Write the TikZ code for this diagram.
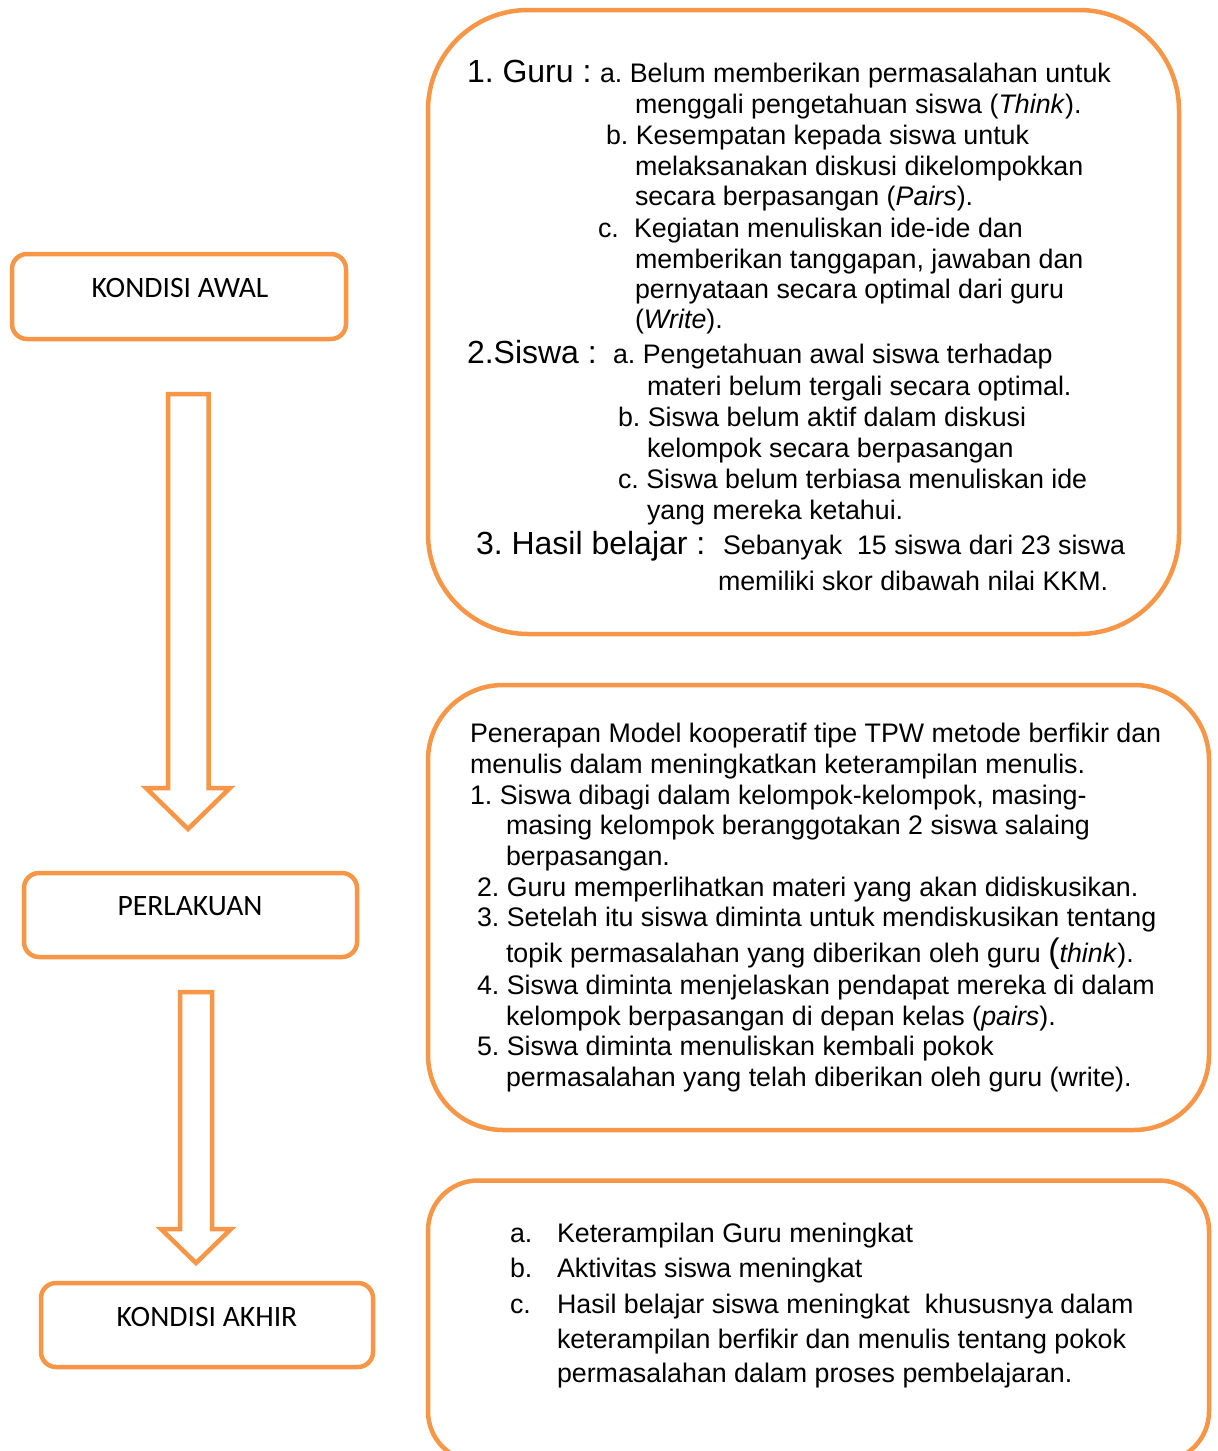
\documentclass[tikz,border=0pt]{standalone}
\usepackage{fontspec}
\setmainfont{Liberation Sans}
\newfontfamily\calib{Carlito}
\definecolor{orng}{HTML}{F79646}
\AtBeginDocument{\frenchspacing}
\tikzset{
  txt/.style={inner sep=0pt, outer sep=0pt, anchor=base west, font=\fontsize{13.4}{16}\selectfont},
  bigtxt/.style={inner sep=0pt, outer sep=0pt, anchor=base west, font=\fontsize{16}{19}\selectfont},
  lab/.style={inner sep=0pt, outer sep=0pt, anchor=base, font=\calib\fontsize{14.8}{17}\selectfont},
  lbox/.style={draw=orng, line width=2.25pt, rounded corners=7.5pt, inner sep=0pt},
  rbox/.style={draw=orng, line width=2.25pt, inner sep=0pt},
  bigarrow/.style={draw=orng, line width=2.25pt, fill=white, line join=miter},
}
\begin{document}
\begin{tikzpicture}[x=0.5pt,y=-0.5pt]
\useasboundingbox (0,0) rectangle (1218,1451);
\clip (0,0) rectangle (1218,1451);
\fill[white] (0,0) rectangle (1218,1451);

% left boxes
\node[lbox, minimum width=167pt, minimum height=42.5pt] (awal) at (179,296.5) {};
\node[lab] (tawal) at (180,297.5) {KONDISI AWAL};
\node[lbox, minimum width=166.5pt, minimum height=42pt] (perl) at (190.5,915) {};
\node[lab] (tperl) at (190,915.5) {PERLAKUAN};
\node[lbox, minimum width=166pt, minimum height=42pt] (akhir) at (207,1325) {};
\node[lab] (takhir) at (207,1326.5) {KONDISI AKHIR};

% block arrows
\draw[bigarrow] (168,394) -- (208.5,394) -- (208.5,788) -- (230,788) -- (188,829) -- (146,788) -- (168,788) -- cycle;
\draw[bigarrow] (180,992) -- (212,992) -- (212,1229) -- (231,1229) -- (196,1263) -- (161,1229) -- (180,1229) -- cycle;

% right boxes
\node[rbox, rounded corners=50pt, minimum width=375.5pt, minimum height=312pt] (b1) at (803.5,322) {};
\node[rbox, rounded corners=37.5pt, minimum width=390.5pt, minimum height=222.5pt] (b2) at (818.5,907.5) {};
\node[rbox, rounded corners=25pt, minimum width=390.5pt, minimum height=140.5pt] (b3) at (818.5,1321) {};

% box 1 text
\node[bigtxt] (g1) at (467,82) {1. Guru :};
\node[txt] (g1a) at (600,82) {a. Belum memberikan permasalahan untuk};
\node[txt] (g1a2) at (635,113) {menggali pengetahuan siswa (\textit{Think}).};
\node[txt] (g1b) at (606,144) {b. Kesempatan kepada siswa untuk};
\node[txt] (g1b2) at (635,175) {melaksanakan diskusi dikelompokkan};
\node[txt] (g1b3) at (635,205) {secara berpasangan (\textit{Pairs}).};
\node[txt] (g1c0) at (598,237) {c.};
\node[txt] (g1c) at (634,237) {Kegiatan menuliskan ide-ide dan};
\node[txt] (g1c2) at (635,268) {memberikan tanggapan, jawaban dan};
\node[txt] (g1c3) at (635,298) {pernyataan secara optimal dari guru};
\node[txt] (g1c4) at (635,328) {(\textit{Write}).};
\node[bigtxt] (s2) at (467,363) {2.Siswa :};
\node[txt] (s2a) at (613,363) {a. Pengetahuan awal siswa terhadap};
\node[txt] (s2a2) at (647,395) {materi belum tergali secara optimal.};
\node[txt] (s2b) at (618,426) {b. Siswa belum aktif dalam diskusi};
\node[txt] (s2b2) at (647,457) {kelompok secara berpasangan};
\node[txt] (s2c) at (618,488) {c. Siswa belum terbiasa menuliskan ide};
\node[txt] (s2c2) at (647,519) {yang mereka ketahui.};
\node[bigtxt] (h3) at (476,554) {3. Hasil belajar :};
\node[txt] (h3a) at (723,554) {Sebanyak\ \ 15 siswa dari 23 siswa};
\node[txt] (h3b) at (718,590) {memiliki skor dibawah nilai KKM.};

% box 2 text
\node[txt] (p0) at (470,742) {Penerapan Model kooperatif tipe TPW metode berfikir dan};
\node[txt] (p0b) at (470,773) {menulis dalam meningkatkan keterampilan menulis.};
\node[txt] (p1) at (470,804) {1. Siswa dibagi dalam kelompok-kelompok, masing-};
\node[txt] (p1b) at (506,834) {masing kelompok beranggotakan 2 siswa salaing};
\node[txt] (p1c) at (506,865) {berpasangan.};
\node[txt] (p2) at (477,896) {2. Guru memperlihatkan materi yang akan didiskusikan.};
\node[txt] (p3) at (477,926) {3. Setelah itu siswa diminta untuk mendiskusikan tentang};
\node[txt] (p3b) at (506,962) {topik permasalahan yang diberikan oleh guru {\fontsize{17}{19}\selectfont(}\textit{think}).};
\node[txt] (p4) at (477,994) {4. Siswa diminta menjelaskan pendapat mereka di dalam};
\node[txt] (p4b) at (506,1025) {kelompok berpasangan di depan kelas (\textit{pairs}).};
\node[txt] (p5) at (477,1055) {5. Siswa diminta menuliskan kembali pokok};
\node[txt] (p5b) at (506,1086) {permasalahan yang telah diberikan oleh guru (write).};

% box 3 text
\node[txt] (ka) at (510,1242) {a.};
\node[txt] (kat) at (557,1242) {Keterampilan Guru meningkat};
\node[txt] (kb) at (510,1277) {b.};
\node[txt] (kbt) at (557,1277) {Aktivitas siswa meningkat};
\node[txt] (kc) at (510,1313) {c.};
\node[txt] (kct) at (557,1313) {Hasil belajar siswa meningkat\ \ khususnya dalam};
\node[txt] (kct2) at (557,1348) {keterampilan berfikir dan menulis tentang pokok};
\node[txt] (kct3) at (557,1382) {permasalahan dalam proses pembelajaran.};
\end{tikzpicture}
\end{document}
